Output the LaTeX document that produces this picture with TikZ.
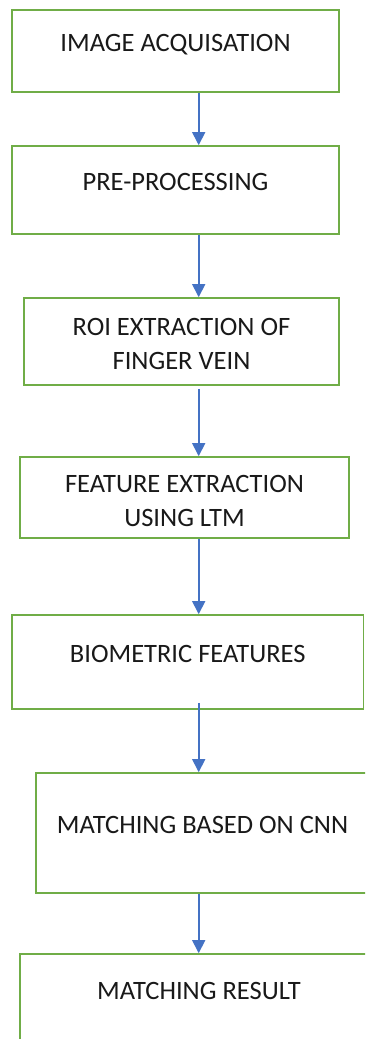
\documentclass[tikz,border=0pt]{standalone}
\usepackage{fontspec}
\setmainfont{Carlito}
\usetikzlibrary{arrows.meta,calc}
\definecolor{boxgreen}{RGB}{112,173,71}
\definecolor{flowblue}{RGB}{68,114,196}
\definecolor{inkgray}{RGB}{25,25,25}
\tikzset{
  stepbox/.style={draw=boxgreen, line width=1.7pt, fill=white, inner sep=0pt,
    text=inkgray, font=\fontsize{26.5}{34}\selectfont, align=center},
  oneline/.style={text height=20pt, text depth=20pt},
  flow/.style={draw=flowblue, line width=1.6pt,
    -{Triangle[width=13pt,length=13pt]}}
}
% invisible strut that lowers a two-line label a little
\newcommand{\toppad}[1]{\rule{0pt}{#1}}
\begin{document}
\begin{tikzpicture}[x=1pt, y=-1pt]
  \useasboundingbox (0,0) rectangle (365,1039);
  \clip (0,0) rectangle (365,1039);

  % process steps
  \node[stepbox, oneline, minimum width=327pt, minimum height=82pt] (b1) at (175.5,51) {IMAGE ACQUISATION};
  \node[stepbox, oneline, minimum width=327pt, minimum height=88pt] (b2) at (175.5,190) {PRE-PROCESSING};
  \node[stepbox, minimum width=315pt, minimum height=87pt] (b3) at (181.5,341.5) {\toppad{23pt}ROI EXTRACTION OF\\FINGER VEIN};
  \node[stepbox, minimum width=329pt, minimum height=81pt] (b4) at (184.5,497.5) {\toppad{25pt}FEATURE EXTRACTION\\USING LTM};
  \node[stepbox, oneline, minimum width=351.5pt, minimum height=94pt] (b5) at (187.75,662) {BIOMETRIC FEATURES};
  \node[stepbox, oneline, minimum width=333pt, minimum height=120pt] (b6) at (202.5,833) {MATCHING BASED ON CNN};
  \node[stepbox, oneline, minimum width=358pt, minimum height=90pt] (b7) at (199,999) {MATCHING RESULT};

  % common axis of the connectors
  \coordinate (ax) at (198.7,0);

  \draw[flow] (b1.south -| ax) -- (b2.north -| ax);
  \draw[flow] (b2.south -| ax) -- (b3.north -| ax);
  \draw[flow, shorten <=3pt] (b3.south -| ax) -- (b4.north -| ax);
  \draw[flow] (b4.south -| ax) -- (b5.north -| ax);
  \draw[flow, shorten <=-7pt] (b5.south -| ax) -- (b6.north -| ax);
  \draw[flow] (b6.south -| ax) -- (b7.north -| ax);
\end{tikzpicture}
\end{document}
